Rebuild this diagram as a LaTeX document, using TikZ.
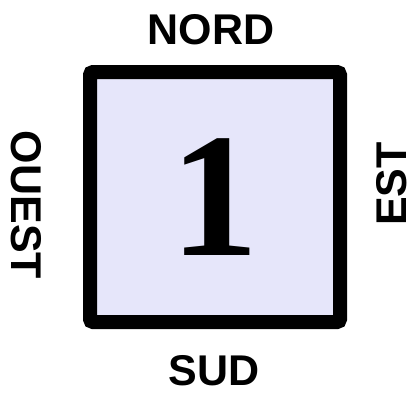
\documentclass[tikz,border=0pt]{standalone}
\usepackage{fontspec}
\setmainfont{Liberation Serif}
\newfontfamily\labfont{Liberation Sans}
\definecolor{tilefill}{RGB}{230,230,250}
\begin{document}
\begin{tikzpicture}[x=1pt,y=-1pt,
  tile/.style={draw=black,line width=14pt,fill=tilefill,rounded corners=3pt},
  dirlabel/.style={inner sep=0pt,font=\labfont\bfseries\fontsize{43}{43}\selectfont},
  bignum/.style={inner sep=0pt,font=\rmfamily\bfseries\fontsize{177}{177}\selectfont}]
\useasboundingbox (0,0) rectangle (415,392);
\draw[tile] (90,72) rectangle (340,322);
\node[bignum] (num) at (215,197) {1};
\node[dirlabel] (nord) at (211,30) {NORD};
\node[dirlabel] (sud) at (214,371) {SUD};
\node[dirlabel,rotate=-90] (ouest) at (26,205) {OUEST};
\node[dirlabel,rotate=90] (est) at (392,184) {EST};
\end{tikzpicture}
\end{document}
